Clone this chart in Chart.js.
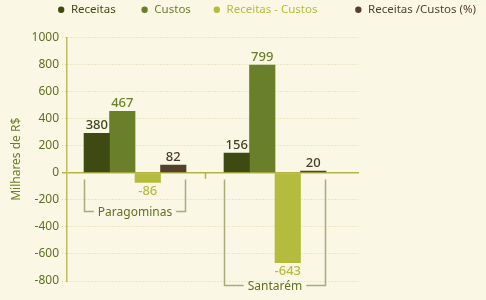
<!DOCTYPE html>
<html>
<head>
<meta charset="utf-8">
<script src="https://cdn.jsdelivr.net/npm/chart.js@4"></script>
<style>
  body { margin: 0; background: #faf7e5; }
  canvas { display: block; }
</style>
</head>
<body>
<canvas id="chart" width="486" height="300"></canvas>
<script>
// dados
const categories = ['Paragominas', 'Santarém'];
const seriesNames = ['Receitas', 'Custos', 'Receitas - Custos', 'Receitas /Custos (%)'];
const receitas = [292, 146];
const custos = [455, 797];
const receitasMenosCustos = [-72, -665];
const receitasPorCustos = [56, 12];
// rótulos impressos sobre as barras
const receitasLabels = ['380', '156'];
const custosLabels = ['467', '799'];
const diferencaLabels = ['-86', '-643'];
const razaoLabels = ['82', '20'];
const yTicks = [-800, -600, -400, -200, 0, 200, 400, 600, 800, 1000];

const barColors = ['#3e4a12', '#6a7f2a', '#b5bb3c', '#55402b'];
const labelColors = ['#3d4220', '#6a7f2a', '#b5bb3c', '#4a3a2c'];
const legendGaps = [7, 6, 11, 2];

Chart.defaults.font.family = "'Noto Sans', sans-serif";
Chart.defaults.font.size = 12;

const allValues = [receitas, custos, receitasMenosCustos, receitasPorCustos];
const allLabels = [receitasLabels, custosLabels, diferencaLabels, razaoLabels];

const valueLabels = {
  id: 'valueLabels',
  afterDatasetsDraw(chart) {
    const ctx = chart.ctx;
    ctx.save();
    ctx.font = "500 13px 'Noto Sans', sans-serif";
    ctx.textAlign = 'center';
    chart.data.datasets.forEach((ds, d) => {
      chart.getDatasetMeta(d).data.forEach((bar, i) => {
        const v = allValues[d][i];
        ctx.fillStyle = labelColors[d];
        if (v >= 0) {
          ctx.textBaseline = 'bottom';
          ctx.fillText(allLabels[d][i], bar.x, bar.y - 1);
        } else {
          ctx.textBaseline = 'top';
          ctx.fillText(allLabels[d][i], bar.x, bar.y + 2);
        }
      });
    });
    ctx.restore();
  }
};

// colchetes sob cada grupo + marca entre grupos
const brackets = {
  id: 'brackets',
  afterDraw(chart) {
    const ctx = chart.ctx;
    const y = chart.scales.y, x = chart.scales.x;
    const depth = [-286, -830];
    const first = chart.getDatasetMeta(0).data;
    const last = chart.getDatasetMeta(3).data;
    ctx.save();
    // marca no eixo zero
    ctx.strokeStyle = '#b3b445';
    ctx.lineWidth = 1.5;
    const mx = Math.round(x.getPixelForValue(0.5)) + 0.5;
    ctx.beginPath();
    ctx.moveTo(mx, y.getPixelForValue(0));
    ctx.lineTo(mx, y.getPixelForValue(0) + 6);
    ctx.stroke();

    ctx.font = "12px 'Noto Sans', sans-serif";
    ctx.textAlign = 'center';
    ctx.textBaseline = 'middle';
    categories.forEach((name, i) => {
      const l = Math.round(first[i].x - first[i].width / 2) + 0.5;
      const r = Math.round(last[i].x + last[i].width / 2) - 0.5;
      const top = y.getPixelForValue(-50);
      const bot = Math.round(y.getPixelForValue(depth[i])) + 0.5;
      const cx = (l + r) / 2;
      const tw = ctx.measureText(name).width;
      ctx.strokeStyle = '#a9ab7c';
      ctx.lineWidth = 1.5;
      ctx.beginPath();
      ctx.moveTo(l, top); ctx.lineTo(l, bot); ctx.lineTo(cx - tw / 2 - 4, bot);
      ctx.moveTo(cx + tw / 2 + 4, bot); ctx.lineTo(r, bot); ctx.lineTo(r, top);
      ctx.stroke();
      ctx.fillStyle = '#5f6f22';
      ctx.fillText(name, cx, bot + 1);
    });
    ctx.restore();
  }
};

const chart = new Chart(document.getElementById('chart'), {
  type: 'bar',
  data: {
    datasets: seriesNames.map((name, d) => ({
      label: name,
      data: allValues[d].map((v, i) => ({ x: i, y: v })),
      backgroundColor: barColors[d],
      borderWidth: 0,
      barThickness: 25.5
    }))
  },
  options: {
    responsive: false,
    animation: false,
    layout: { padding: { top: 0, bottom: 19, left: 0, right: 0 } },
    plugins: {
      tooltip: { enabled: false },
      legend: {
        position: 'top',
        align: 'end',
        labels: {
          usePointStyle: true,
          pointStyle: 'circle',
          boxWidth: 8,
          boxHeight: 4.5,
          padding: 4,
          font: { size: 11.5 },
          generateLabels(chart) {
            const items = Chart.defaults.plugins.legend.labels.generateLabels(chart);
            items.forEach((it, i) => {
              it.fontColor = barColors[i];
              it.lineWidth = 0;
              it.text = it.text + ' '.repeat(legendGaps[i]);
            });
            return items;
          }
        }
      }
    },
    scales: {
      x: {
        type: 'linear',
        display: false,
        offset: false,
        min: -0.486,
        max: 1.6
      },
      padTop: {
        type: 'linear',
        axis: 'x',
        position: 'top',
        display: true,
        grid: { display: false, drawTicks: false },
        border: { display: false },
        ticks: { display: false },
        afterFit(s) { s.height = 12; }
      },
      y: {
        min: -800,
        max: 1000,
        afterBuildTicks(s) { s.ticks = yTicks.map(v => ({ value: v })); },
        afterFit(s) { s.width = 67; },
        ticks: {
          color: '#5f6f22',
          padding: 3,
          font: { size: 12 },
          callback: v => String(v)
        },
        grid: {
          tickLength: 5,
          color: c => (c.tick && c.tick.value === 0) ? '#b3b445' : '#dcd8a6',
          lineWidth: c => (c.tick && c.tick.value === 0) ? 1.5 : 1,
          tickColor: c => (c.tick && c.tick.value === 0) ? '#b3b445' : '#dcd8a6',
          tickBorderDash: c => (c.tick && c.tick.value === 0) ? [] : [1, 2]
        },
        border: {
          color: '#bdbc62',
          width: 1.5,
          dash: c => (c.tick && c.tick.value === 0) ? [] : [1, 2]
        },
        title: {
          display: true,
          text: 'Milhares de R$',
          color: '#6a7f2a',
          font: { size: 12 },
          padding: { top: 9, bottom: 0 }
        }
      },
      pad: {
        type: 'linear',
        position: 'right',
        display: true,
        grid: { display: false, drawTicks: false },
        border: { display: false },
        ticks: { display: false },
        afterFit(s) { s.width = 127; }
      }
    }
  },
  plugins: [valueLabels, brackets]
});
</script>
</body>
</html>
